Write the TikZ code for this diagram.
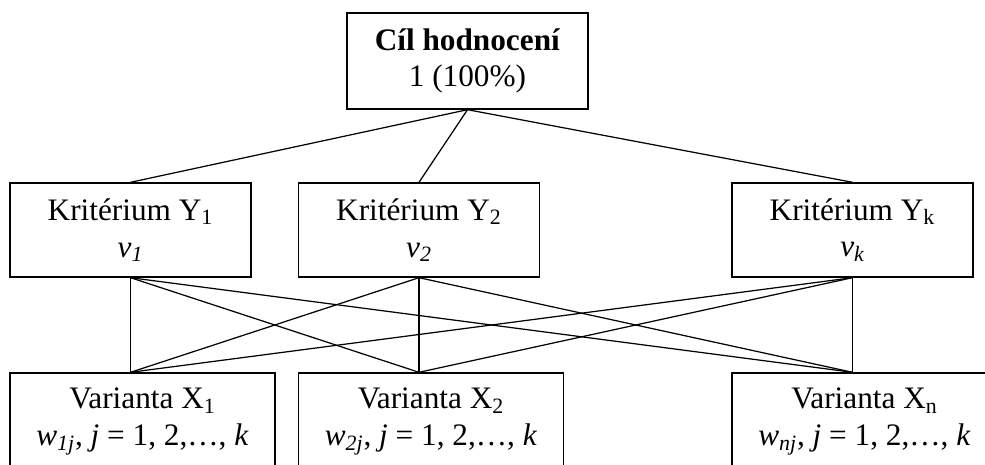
\documentclass[tikz,border=0pt]{standalone}
\usepackage{fontspec}
\setmainfont{Liberation Serif}
\usepackage{tikz}

\tikzset{
	box/.style={draw, line width=0.8pt, align=center, inner sep=0pt, font=\fontsize{17.8}{21}\selectfont},
	critbox/.style={box, minimum width=4.82cm, minimum height=1.88cm},
	varbox/.style={box, minimum width=5.3cm, minimum height=1.94cm},
	link/.style={line width=0.7pt},
}

\begin{document}
\begin{tikzpicture}[x=0.02cm,y=-0.02cm]
		
		\useasboundingbox (0,0) rectangle (985,465);
		
		\node[box, minimum width=4.82cm, minimum height=1.92cm] (goal) at (467.5,61) {\textbf{Cíl hodnocení}\\1 (100\%)};
		
		\node[critbox] (y1) at (130.5,230) {Kritérium Y\textsubscript{1}\\\textit{v\textsubscript{1}}};
		\node[critbox] (y2) at (419,230) {Kritérium Y\textsubscript{2}\\\textit{v\textsubscript{2}}};
		\node[critbox] (yk) at (852.5,230) {Kritérium Y\textsubscript{k}\\\textit{v\textsubscript{k}}};
		
		\node[varbox] (x1) at (142.5,421.5) {Varianta X\textsubscript{1}\\\textit{w\textsubscript{1j}}, \textit{j} = 1, 2,…, \textit{k}};
		\node[varbox] (x2) at (431,421.5) {Varianta X\textsubscript{2}\\\textit{w\textsubscript{2j}}, \textit{j} = 1, 2,…, \textit{k}};
		\node[varbox] (xn) at (864.5,421.5) {Varianta X\textsubscript{n}\\\textit{w\textsubscript{nj}}, \textit{j} = 1, 2,…, \textit{k}};
		
		\coordinate (x1in) at (y1.south |- x1.north);
		\coordinate (x2in) at (y2.south |- x2.north);
		\coordinate (xnin) at (yk.south |- xn.north);
		
		\foreach \c in {y1,y2,yk}
			\draw[link] (goal.south) -- (\c.north);
		
		\foreach \c in {y1,y2,yk}
			\foreach \v in {x1in,x2in,xnin}
				\draw[link] (\c.south) -- (\v);
		
	\end{tikzpicture}
\end{document}
